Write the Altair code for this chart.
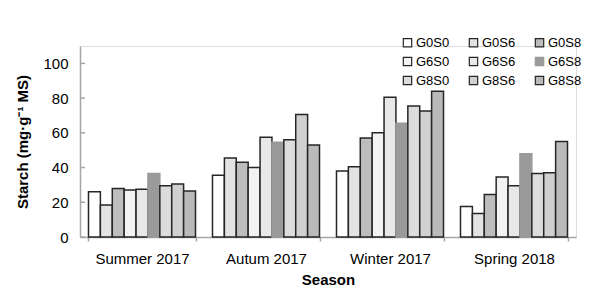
import altair as alt
import pandas as pd

seasons = ["Summer 2017", "Autum 2017", "Winter 2017", "Spring 2018"]
series = ["G0S0", "G0S6", "G0S8", "G6S0", "G6S6", "G6S8", "G8S0", "G8S6", "G8S8"]
values = {
    "Summer 2017": [26, 18.5, 28, 27, 27.5, 36.5, 29.5, 30.5, 26.5],
    "Autum 2017": [35.5, 45.5, 43, 40, 57.5, 54.5, 56, 70.5, 53],
    "Winter 2017": [38, 40.5, 57, 60, 80.5, 65.5, 75.5, 72.5, 84],
    "Spring 2018": [17.5, 13.5, 24.5, 34.5, 29.5, 48, 36.5, 37, 55],
}
y_ticks = [0, 20, 40, 60, 80, 100]

fills = ["#ffffff", "#e3e3e3", "#bdbdbd", "#f2f2f2", "#e8e8e8", "#9a9a9a", "#dcdcdc", "#d0d0d0", "#bababa"]
strokes = ["#262626"] * 5 + ["#9a9a9a"] + ["#262626"] * 3

rows = []
for s in seasons:
    for g, v in zip(series, values[s]):
        rows.append({"Season": s, "Group": g, "Starch": v})
df = pd.DataFrame(rows)
ticks_df = pd.DataFrame({"Starch": y_ticks})

FONT = "Liberation Sans"

x_enc = alt.X(
    "Season:N",
    sort=seasons,
    title="Season",
    scale=alt.Scale(paddingInner=0.137, paddingOuter=0.0685),
    axis=alt.Axis(
        labelAngle=0, labelFontSize=15, labelColor="#000000", labelPadding=10,
        titleFontSize=15, titleFontWeight="bold", titleColor="#000000", titlePadding=6,
        domainColor="#a6a6a6", domainWidth=1.5, tickBand="extent", tickSize=4,
        tickColor="#a6a6a6", tickWidth=1.5,
    ),
)
y_scale = alt.Scale(domain=[0, 110], nice=False)
y_axis = alt.Axis(
    values=y_ticks, labelFontSize=15, labelColor="#000000", labelPadding=12,
    labelOverlap=False,
    tickSize=0, grid=False, domainColor="#a6a6a6", domainWidth=1.5,
    titleFontSize=15, titleFontWeight="bold", titleColor="#000000", titlePadding=12,
)
y_title = "Starch (mg·g⁻¹ MS)"

legend = alt.Legend(
    title=None, orient="none", legendX=321, legendY=-10, columns=3, direction="horizontal",
    symbolType="square", symbolSize=70, symbolStrokeWidth=1.2,
    labelFontSize=13, labelColor="#000000", labelOffset=2,
    columnPadding=16, rowPadding=4, symbolOpacity=1,
)

bars = alt.Chart(df).mark_bar(strokeWidth=1.5).encode(
    x=x_enc,
    xOffset=alt.XOffset("Group:N", sort=series, scale=alt.Scale(paddingInner=0, paddingOuter=0)),
    y=alt.Y("Starch:Q", scale=y_scale, title=y_title, axis=y_axis),
    fill=alt.Fill("Group:N", sort=series, scale=alt.Scale(domain=series, range=fills), legend=legend),
    stroke=alt.Stroke("Group:N", sort=series, scale=alt.Scale(domain=series, range=strokes), legend=legend),
)

yticks = alt.Chart(ticks_df).mark_rule(color="#a6a6a6", strokeWidth=1.5).encode(
    y=alt.Y("Starch:Q", scale=y_scale, title=y_title, axis=y_axis),
    x=alt.value(0),
    x2=alt.value(5),
)

chart = alt.layer(bars, yticks).properties(
    width=496, height=191,
    autosize=alt.AutoSizeParams(type="none"),
    padding={"left": 72, "top": 38, "right": 7, "bottom": 60},
    background="#ffffff",
).configure_view(stroke=None).configure(font=FONT)

chart.save("out.html", embed_options={"renderer": "svg", "actions": False})
